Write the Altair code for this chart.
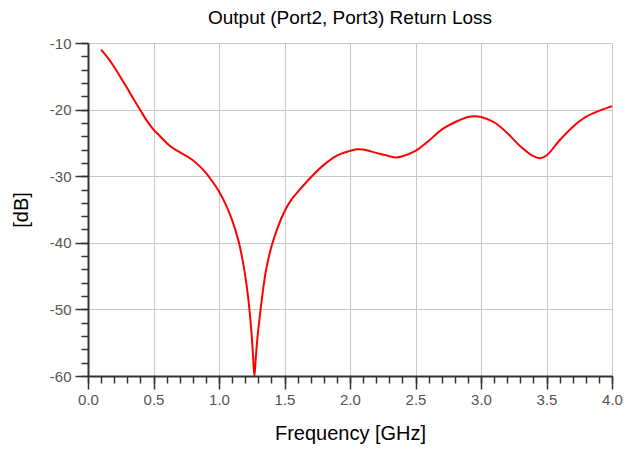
import altair as alt
import pandas as pd

freq_ghz = [0.10, 0.15, 0.20, 0.25, 0.30, 0.35, 0.40, 0.45, 0.50, 0.55, 0.60, 0.65,
            0.70, 0.75, 0.80, 0.85, 0.90, 0.95, 1.00, 1.05, 1.10, 1.15, 1.18, 1.20,
            1.22, 1.24, 1.25, 1.26, 1.27, 1.28, 1.29, 1.30, 1.32, 1.34, 1.36, 1.40,
            1.45, 1.50, 1.55, 1.60, 1.70, 1.80, 1.90, 2.00, 2.05, 2.10, 2.20, 2.30,
            2.35, 2.40, 2.50, 2.60, 2.70, 2.80, 2.90, 2.95, 3.00, 3.10, 3.20, 3.30,
            3.40, 3.45, 3.50, 3.60, 3.70, 3.80, 3.90, 4.00]
return_loss_db = [-11.0, -12.2, -13.6, -15.2, -16.8, -18.5, -20.1, -21.7, -23.0, -24.0,
                  -25.0, -25.8, -26.4, -26.95, -27.6, -28.45, -29.5, -30.8, -32.3, -34.2,
                  -36.6, -39.8, -42.6, -44.9, -47.8, -51.6, -54.0, -57.0, -60.0, -57.5,
                  -55.0, -53.0, -49.6, -46.5, -44.0, -40.6, -37.6, -35.3, -33.6, -32.4,
                  -30.2, -28.3, -26.9, -26.2, -25.95, -26.0, -26.5, -27.0, -27.2, -27.0,
                  -26.2, -24.7, -23.0, -21.9, -21.1, -21.0, -21.1, -21.9, -23.5, -25.5,
                  -27.0, -27.3, -26.9, -24.6, -22.6, -21.1, -20.2, -19.5]

x_major = [0.0, 0.5, 1.0, 1.5, 2.0, 2.5, 3.0, 3.5, 4.0]
x_minor = [round(i * 0.1, 1) for i in range(41)]
y_major = [-60, -50, -40, -30, -20, -10]
y_minor = list(range(-60, -9, 2))

df = pd.DataFrame({"f": freq_ghz, "db": return_loss_db})

FONT = "Liberation Sans"
xscale = alt.Scale(domain=[0, 4], nice=False, zero=False)
yscale = alt.Scale(domain=[-60, -10], nice=False, zero=False)
hyphen = "replace(datum.label, '\u2212', '-')"

main = alt.Chart(df).mark_line(color="#ff0000", strokeWidth=2, interpolate="catmull-rom", clip=True).encode(
    x=alt.X("f:Q", scale=xscale,
            axis=alt.Axis(orient="bottom", values=x_major, format=".1f", tickSize=13,
                          tickColor="#333333", tickWidth=1.5, domainColor="#333333", domainWidth=2,
                          labelColor="#555555", labelFontSize=15, labelFont=FONT, labelPadding=3,
                          labelFlush=False,
                          grid=True, gridColor="#c8c8c8", gridWidth=1,
                          title="Frequency [GHz]", titleFont=FONT, titleFontSize=20,
                          titleFontWeight="normal", titleColor="#000000", titlePadding=16)),
    y=alt.Y("db:Q", scale=yscale,
            axis=alt.Axis(orient="left", values=y_major, tickSize=13, labelExpr=hyphen,
                          tickColor="#333333", tickWidth=1.5, domainColor="#333333", domainWidth=2,
                          labelColor="#555555", labelFontSize=15, labelFont=FONT, labelPadding=4,
                          labelFlush=False,
                          grid=True, gridColor="#c8c8c8", gridWidth=1,
                          title="[dB]", titleFont=FONT, titleFontSize=20,
                          titleFontWeight="normal", titleColor="#000000", titlePadding=18)),
)

minor = alt.Chart(df).mark_line(strokeOpacity=0).encode(
    x=alt.X("f:Q", scale=xscale,
            axis=alt.Axis(orient="bottom", values=x_minor, tickSize=7, tickColor="#333333",
                          tickWidth=1.5, labels=False, domain=False, grid=False, title=None)),
    y=alt.Y("db:Q", scale=yscale,
            axis=alt.Axis(orient="left", values=y_minor, tickSize=7, tickColor="#333333",
                          tickWidth=1.5, labels=False, domain=False, grid=False, title=None)),
)

chart = alt.layer(main, minor).resolve_axis(x="independent", y="independent").properties(
    width=524,
    height=333,
    title=alt.TitleParams("Output (Port2, Port3) Return Loss", font=FONT, fontSize=19,
                          fontWeight="normal", color="#000000", anchor="middle", offset=8),
    autosize=alt.AutoSizeParams(type="none"),
    padding={"left": 80, "top": 35, "right": 11, "bottom": 68},
).configure_view(stroke="#6e6e6e", strokeWidth=2).configure(background="white")

chart.save("out.html", embed_options={"renderer": "svg", "actions": False})
